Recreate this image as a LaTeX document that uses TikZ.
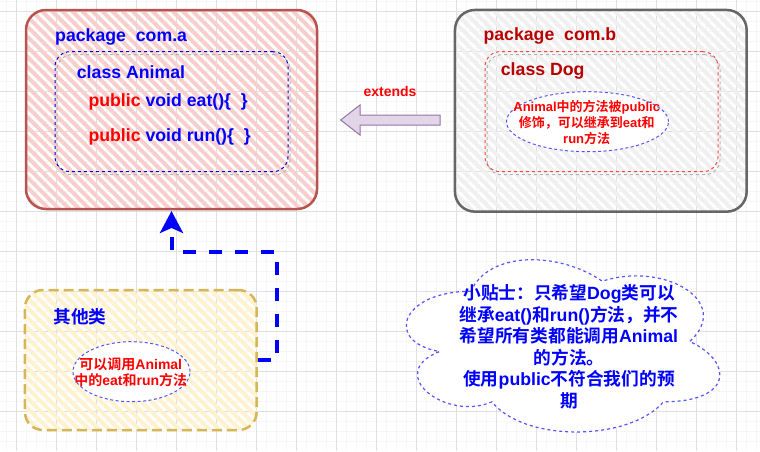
\documentclass[tikz,border=0pt]{standalone}
\usepackage{fontspec}
\setmainfont{Liberation Sans}
\newfontfamily\zhfont{Noto Sans CJK SC Bold}[BoldFont={Noto Sans CJK SC Bold}]
\usepackage{tikz}
\usetikzlibrary{arrows.meta, patterns.meta, shapes.geometric, calc}
\usepackage{xcolor}

\definecolor{pinkfill}{HTML}{F8CECC}
\definecolor{pinkline}{HTML}{B85450}
\definecolor{grayfill}{HTML}{F0F0F0}
\definecolor{grayline}{HTML}{666666}
\definecolor{yellowfill}{HTML}{FFF2CC}
\definecolor{yellowline}{HTML}{D6B656}
\definecolor{arrowfill}{HTML}{E1D5E7}
\definecolor{arrowline}{HTML}{9673A6}
\definecolor{pureblue}{HTML}{0000FF}
\definecolor{purered}{HTML}{FF0000}
\definecolor{darkred}{HTML}{B80000}
\definecolor{softblue}{HTML}{5555FF}
\definecolor{softred}{HTML}{FF4444}

\newcommand{\zh}[1]{{\zhfont #1}}
\newcommand{\bigtext}{\fontsize{17.7pt}{21.5pt}\selectfont\bfseries}
\newcommand{\midtext}{\fontsize{14pt}{16.7pt}\selectfont\bfseries}
\newcommand{\smalltext}{\fontsize{13pt}{16pt}\selectfont\bfseries}

\begin{document}
\begin{tikzpicture}[
    x=1pt, y=-1pt,
    minorgrid/.style={draw=black!3.5, line width=0.8pt},
    majorgrid/.style={draw=black!12, line width=1pt},
    pkgbox/.style={rectangle, rounded corners=20pt, line width=2.5pt, inner sep=0pt},
    innerbox/.style={rectangle, rounded corners=15pt, line width=1pt, dash pattern=on 3pt off 3pt, inner sep=0pt,
        preaction={draw=black!30, line width=1pt, dash pattern=on 3pt off 3pt, transform canvas={shift={(2pt,-3pt)}}}},
    hatch/.style={pattern={Lines[angle=-45, distance=7.1pt, line width=3.9pt]}, pattern color=#1},
    note/.style={ellipse, draw=softblue, fill=white, line width=1pt, dash pattern=on 3pt off 2.5pt, inner sep=0pt},
    title/.style={anchor=west, inner sep=0pt, font=\bigtext},
    dep/.style={draw=pureblue, line width=4pt, dash pattern=on 13pt off 13pt, -{Stealth[length=22pt, width=23pt, inset=5pt]}}
]
\fill[white] (0,0) rectangle (760,451);
\useasboundingbox (0,0) rectangle (760,451);

% grid
\foreach \k in {0,...,75} \draw[minorgrid] ({6.7+10*\k},0) -- ({6.7+10*\k},451);
\foreach \k in {0,...,44} \draw[minorgrid] (0,{1.7+10*\k}) -- (760,{1.7+10*\k});
\foreach \k in {0,...,18} \draw[majorgrid] ({16.7+40*\k},0) -- ({16.7+40*\k},451);
\foreach \k in {0,...,10} \draw[majorgrid] (0,{11.7+40*\k}) -- (760,{11.7+40*\k});

% package com.a
\node[pkgbox, hatch=pinkfill, draw=pinkline, minimum width=291pt, minimum height=199pt] (pkga) at (171.5,109.5) {};
\node[innerbox, draw=pureblue!85!black, minimum width=233pt, minimum height=120pt] (animal) at (171.5,111.7) {};
\node[title, text=pureblue] (pkganame) at (55,36.7) {package\ \ com.a};
\node[title, text=pureblue] (animalname) at (76.7,71.7) {class Animal};
\node[title, text=pureblue] (eat) at (88.3,101.7) {\textcolor{purered}{public} void eat()\{\ \ \}};
\node[title, text=pureblue] (run) at (88.3,136.7) {\textcolor{purered}{public} void run()\{\ \ \}};

% package com.b
\node[pkgbox, hatch=grayfill, draw=grayline, minimum width=291.7pt, minimum height=201.7pt] (pkgb) at (600.8,110.8) {};
\node[innerbox, draw=softred, minimum width=233pt, minimum height=120pt] (dog) at (601.5,111.7) {};
\node[title, text=darkred] (pkgbname) at (483.3,35.7) {package\ \ com.b};
\node[title, text=darkred] (dogname) at (500.7,71) {class Dog};
\node[note, minimum width=162pt, minimum height=60pt] (dognote) at (587.5,121.7) {};
\node[align=center, inner sep=0pt, text=purered, font=\smalltext] (dogtext) at (586.7,122.5)
    {Animal\zh{中的方法被}public\\\zh{修饰，可以继承到}eat\zh{和}\\run\zh{方法}};

% extends
\draw[draw=arrowline, fill=arrowfill, line width=1pt, line join=miter]
    (440,115) -- (360,115) -- (360,105) -- (340.7,120) -- (360,135) -- (360,125) -- (440,125) -- cycle;
\node[inner sep=0pt, text=purered, font=\midtext] (extlabel) at (390,91.7) {extends};

% other classes
\node[pkgbox, hatch=yellowfill, draw=yellowline, dash pattern=on 10pt off 5pt, minimum width=231.7pt, minimum height=140pt, rounded corners=18pt] (other) at (140.8,360) {};
\node[title, text=pureblue] (othername) at (53.3,316.7) {\zh{其他类}};
\node[note, minimum width=117pt, minimum height=60pt] (othernote) at (131.5,371.7) {};
\node[align=center, inner sep=0pt, text=purered, font=\midtext] (othertext) at (130.8,372.3)
    {\zh{可以调用}Animal\\\zh{中的}eat\zh{和}run\zh{方法}};

\coordinate (bend) at (276.7,251.7);
\draw[dep] (other.east) -| (bend) -| (pkga.south);

% tip cloud
\begin{scope}[shift={(383.5,241)}, x=350pt, y=-201pt]
\draw[draw=softblue, fill=white, line width=1.2pt, dash pattern=on 3pt off 3pt]
    (0.25,0.25) .. controls (0.05,0.25) and (0,0.5) .. (0.16,0.55)
    .. controls (0,0.66) and (0.18,0.9) .. (0.31,0.8)
    .. controls (0.4,1) and (0.7,1) .. (0.8,0.8)
    .. controls (1,0.8) and (1,0.6) .. (0.875,0.5)
    .. controls (1,0.3) and (0.8,0.1) .. (0.625,0.2)
    .. controls (0.5,0.05) and (0.3,0.05) .. (0.25,0.25) -- cycle;
\end{scope}
\node[align=center, inner sep=0pt, text=pureblue, font=\bigtext] (tip) at (569,346.5)
    {\zh{小贴士：只希望}Dog\zh{类可以}\\\zh{继承}eat()\zh{和}run()\zh{方法，并不}\\\zh{希望所有类都能调用}Animal\\\zh{的方法。}\\\zh{使用}public\zh{不符合我们的预}\\\zh{期}};
\end{tikzpicture}
\end{document}
